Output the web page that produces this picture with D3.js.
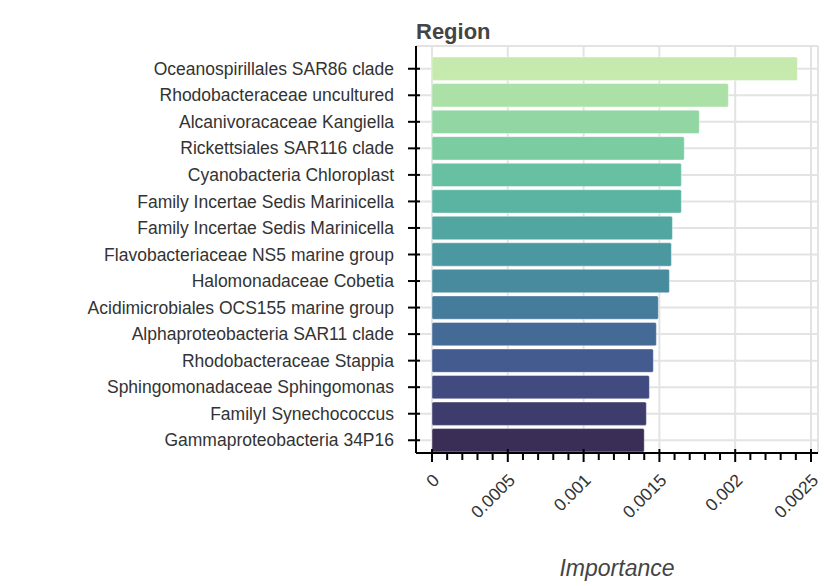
<!DOCTYPE html>
<html><head><meta charset="utf-8">
<script src="https://cdn.jsdelivr.net/npm/d3@7"></script>
<style>body{margin:0;background:#fff}text{font-family:"Helvetica Neue",Arial,"Liberation Sans",sans-serif}</style>
</head><body><div id="chart"></div>
<script>
const categories = ["Oceanospirillales SAR86 clade","Rhodobacteraceae uncultured","Alcanivoracaceae Kangiella","Rickettsiales SAR116 clade","Cyanobacteria Chloroplast","Family Incertae Sedis Marinicella","Family Incertae Sedis Marinicella ","Flavobacteriaceae NS5 marine group","Halomonadaceae Cobetia","Acidimicrobiales OCS155 marine group","Alphaproteobacteria SAR11 clade","Rhodobacteraceae Stappia","Sphingomonadaceae Sphingomonas","FamilyI Synechococcus","Gammaproteobacteria 34P16"];
const values = [0.00241,0.001955,0.001763,0.001664,0.001645,0.001645,0.001586,0.001579,0.001566,0.001493,0.00148,0.00146,0.001434,0.001414,0.0014];
const ticks = [0,0.0005,0.001,0.0015,0.002,0.0025];
const colorStops = ["#c6e9ad","#86d49f","#5ab9a3","#4a98a2","#44779a","#434f8c","#3a2d56"];

const W = 824, H = 586;
const svg = d3.select("#chart").append("svg").attr("width", W).attr("height", H);
const x = d3.scaleLinear().domain([0, 0.0025]).range([432, 811]);
const y = d3.scaleBand().domain(categories).range([56, 453]).paddingInner(0.12).paddingOuter(0.04);
const color = d3.interpolateRgbBasis(colorStops);
const pLeft = 416, pRight = 818, pTop = 46, pBottom = 453;

// grid
svg.append("g").selectAll("line").data(ticks).join("line")
  .attr("x1", d => x(d)).attr("x2", d => x(d)).attr("y1", pTop).attr("y2", pBottom)
  .attr("stroke", "#e3e3e3").attr("stroke-width", 2);
svg.append("g").selectAll("line").data(categories).join("line")
  .attr("x1", pLeft).attr("x2", pRight)
  .attr("y1", d => y(d) + y.bandwidth() / 2).attr("y2", d => y(d) + y.bandwidth() / 2)
  .attr("stroke", "#e3e3e3").attr("stroke-width", 2);
svg.append("line").attr("x1", pRight).attr("x2", pRight).attr("y1", pTop).attr("y2", pBottom)
  .attr("stroke", "#e3e3e3").attr("stroke-width", 2);
svg.append("line").attr("x1", pLeft).attr("x2", pRight).attr("y1", pTop).attr("y2", pTop)
  .attr("stroke", "#e3e3e3").attr("stroke-width", 2);

// bars
svg.append("g").selectAll("rect").data(categories).join("rect")
  .attr("x", x(0)).attr("y", d => y(d))
  .attr("width", (d, i) => x(values[i]) - x(0)).attr("height", y.bandwidth())
  .attr("rx", 1.5)
  .attr("fill", (d, i) => color(i / (categories.length - 1)))
  .attr("stroke", "#fff").attr("stroke-opacity", 0.4);

// y axis
const yAxis = svg.append("g").attr("transform", `translate(${pLeft},0)`);
yAxis.append("line").attr("y1", pTop).attr("y2", pBottom).attr("stroke", "#000").attr("stroke-width", 2);
const yt = yAxis.selectAll("g").data(categories).join("g")
  .attr("transform", d => `translate(0,${y(d) + y.bandwidth() / 2})`);
yt.append("line").attr("x1", -8).attr("x2", 4).attr("stroke", "#000").attr("stroke-width", 2);
yt.append("text").attr("x", -22).attr("dy", "0.35em").attr("text-anchor", "end")
  .attr("font-size", 17.5).attr("fill", "#333").text(d => d.trim());

// x axis
const xAxis = svg.append("g").attr("transform", `translate(0,${pBottom})`);
xAxis.append("line").attr("x1", pLeft).attr("x2", pRight).attr("stroke", "#000").attr("stroke-width", 2);
const minor = d3.range(0, 26).map(i => i * 0.0001).filter(v => !ticks.some(t => Math.abs(t - v) < 1e-9));
xAxis.selectAll(".minor").data(minor).join("line").attr("class", "minor")
  .attr("x1", d => x(d)).attr("x2", d => x(d)).attr("y1", 0).attr("y2", 7)
  .attr("stroke", "#000").attr("stroke-width", 2);
const xt = xAxis.selectAll(".major").data(ticks).join("g").attr("class", "major")
  .attr("transform", d => `translate(${x(d)},0)`);
xt.append("line").attr("y1", -4).attr("y2", 9).attr("stroke", "#000").attr("stroke-width", 2);
xt.append("text").attr("transform", "translate(4,24) rotate(-45)").attr("text-anchor", "end")
  .attr("dy", "0.35em").attr("font-size", 17.5).attr("fill", "#333").text(d => d3.format("")(d));

svg.append("text").attr("x", 416).attr("y", 39).attr("font-size", 22).attr("font-weight", "bold")
  .attr("fill", "#444").text("Region");
svg.append("text").attr("x", 617).attr("y", 576).attr("text-anchor", "middle").attr("font-size", 23)
  .attr("font-style", "italic").attr("fill", "#444").text("Importance");
</script></body></html>
